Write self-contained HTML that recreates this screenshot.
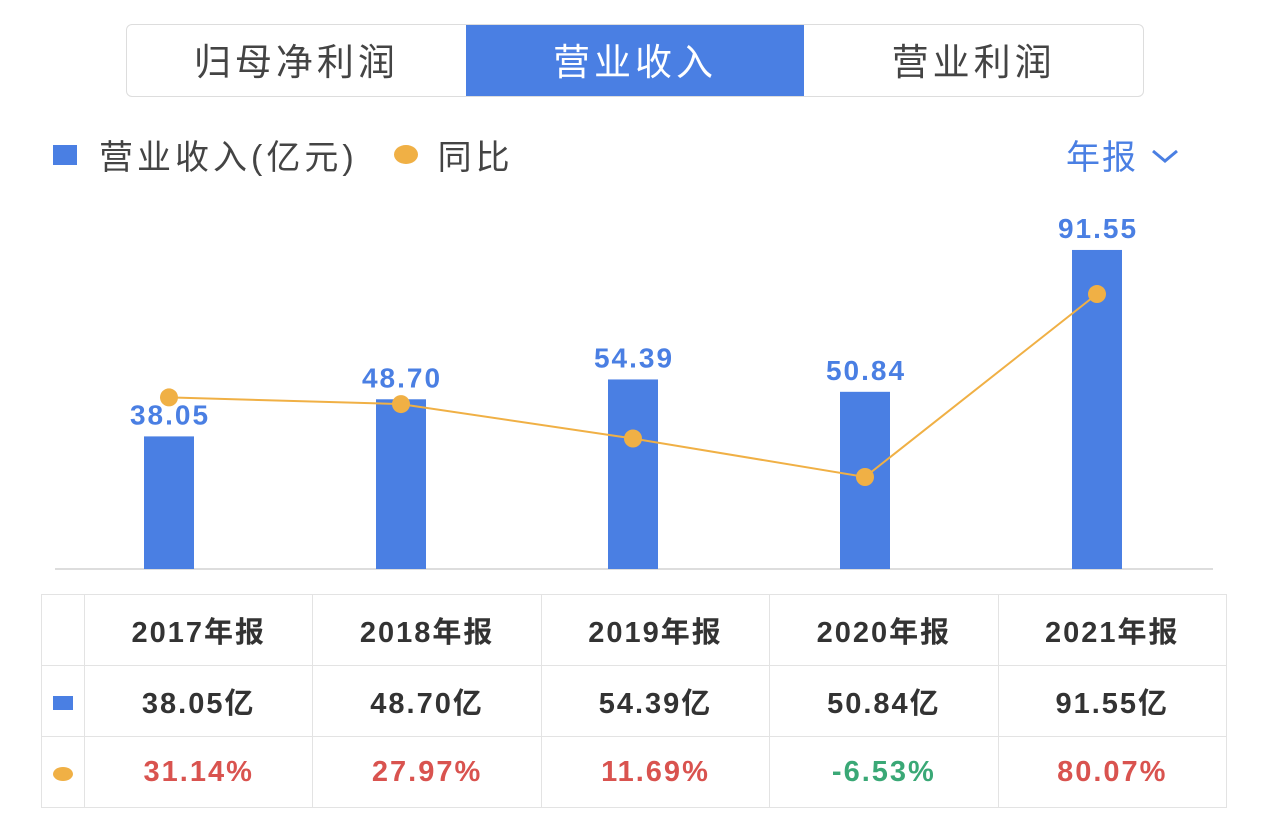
<!DOCTYPE html>
<html><head><meta charset="utf-8">
<style>
body{margin:0;width:1269px;height:832px;background:#fff;font-family:"Liberation Sans","Noto Sans CJK SC",sans-serif;position:relative;overflow:hidden;color:#333}
.tabs{position:absolute;left:126px;top:24px;width:1016px;height:71px;border:1px solid #ddd;border-radius:6px;display:flex;overflow:hidden}
.tab{flex:1;display:flex;align-items:center;justify-content:center;font-size:37px;letter-spacing:4px;color:#444;padding-bottom:4px;box-sizing:border-box}
.tab.on{background:#4a7fe3;color:#fff}
.leg{position:absolute;top:130px;font-size:34px;letter-spacing:4px;color:#444;display:flex;align-items:center}
table{position:absolute;left:41px;top:594px;border-collapse:collapse;font-size:29px;letter-spacing:2px;font-weight:bold;table-layout:fixed;width:1186px}
td{border:1px solid #e3e3e3;text-align:center;height:68px;color:#333}
col.f{width:43px}
.r{color:#d9534f}.g{color:#3aa876}
</style></head><body>
<div class="tabs">
<div class="tab">归母净利润</div>
<div class="tab on">营业收入</div>
<div class="tab">营业利润</div>
</div>
<div class="leg" style="left:53px">
<span style="width:24px;height:20px;background:#4a7fe3;display:inline-block;margin-right:22px"></span>
<span>营业收入(亿元)</span>
<span style="width:24px;height:19px;border-radius:50%;background:#f0b045;display:inline-block;margin:0 20px 0 36px"></span>
<span>同比</span>
</div>
<div class="leg" style="left:1066px;color:#4a7fe3;letter-spacing:2px">年报 <svg width="30" height="20" style="margin-left:12px"><path d="M3 6 L15 16 L27 6" stroke="#4a7fe3" stroke-width="3" fill="none"/></svg></div>
<svg id="chart" width="1269" height="832" style="position:absolute;left:0;top:0"></svg>
<table>
<colgroup><col class="f"><col><col><col><col><col></colgroup>
<tr><td></td><td>2017年报</td><td>2018年报</td><td>2019年报</td><td>2020年报</td><td>2021年报</td></tr>
<tr><td><span style="display:inline-block;width:20px;height:14px;background:#4a7fe3"></span></td><td>38.05亿</td><td>48.70亿</td><td>54.39亿</td><td>50.84亿</td><td>91.55亿</td></tr>
<tr><td><span style="display:inline-block;width:20px;height:14px;border-radius:50%;background:#f0b045"></span></td><td class="r">31.14%</td><td class="r">27.97%</td><td class="r">11.69%</td><td class="g">-6.53%</td><td class="r">80.07%</td></tr>
</table>
<script>
const categories=["2017","2018","2019","2020","2021"];
const revenue=[38.05,48.70,54.39,50.84,91.55];
const yoy=[31.14,27.97,11.69,-6.53,80.07];
const svg=document.getElementById('chart');
const NS='http://www.w3.org/2000/svg';
const x=i=>169+i*232;
const yb=v=>569-v*3.485;
const yl=v=>463.2-v*2.113;
function mk(t,a){const e=document.createElementNS(NS,t);for(const k in a)e.setAttribute(k,a[k]);svg.appendChild(e);return e;}
const base=mk('line',{x1:55,x2:1213,y1:569,y2:569,stroke:'#ddd','stroke-width':2});


revenue.forEach((v,i)=>{
const r=mk('rect',{x:x(i)-25,y:yb(v),width:50,height:569-yb(v),fill:'#4a7fe3'});


const t=mk('text',{x:x(i)+1,y:yb(v)-12,'text-anchor':'middle','font-size':28,'font-weight':'bold','letter-spacing':2,fill:'#4a7fe3','font-family':'Liberation Sans,sans-serif'});
t.textContent=v.toFixed(2);


});
const pl=mk('polyline',{points:yoy.map((v,i)=>x(i)+','+yl(v)).join(' '),fill:'none',stroke:'#f0b045','stroke-width':2});


yoy.forEach((v,i)=>{
const c=mk('circle',{cx:x(i),cy:yl(v),r:9,fill:'#f0b045'});


});
</script>
</body></html>
